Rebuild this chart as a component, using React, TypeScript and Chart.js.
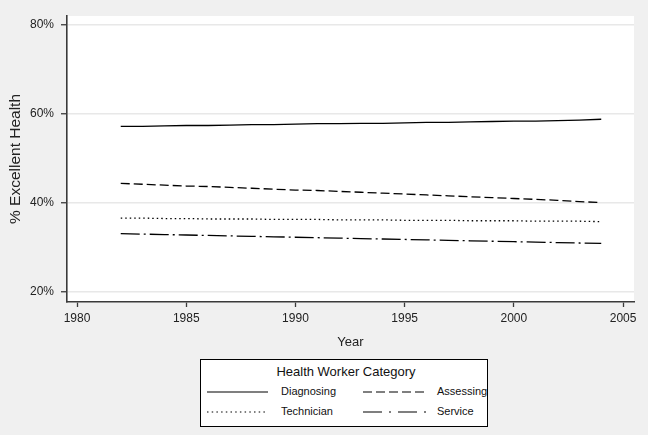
import { useEffect, useRef } from 'react';
import { Chart, registerables } from 'chart.js';

Chart.register(...registerables);

const years = [1982, 1983, 1984, 1985, 1986, 1987, 1988, 1989, 1990, 1991, 1992, 1993, 1994, 1995, 1996, 1997, 1998, 1999, 2000, 2001, 2002, 2003, 2004];
const diagnosing = [57.2, 57.2, 57.3, 57.4, 57.4, 57.5, 57.6, 57.6, 57.7, 57.8, 57.8, 57.9, 57.9, 58.0, 58.1, 58.1, 58.2, 58.3, 58.4, 58.4, 58.5, 58.6, 58.8];
const assessing = [44.4, 44.2, 44.0, 43.8, 43.7, 43.5, 43.3, 43.1, 42.9, 42.8, 42.6, 42.4, 42.2, 42.0, 41.8, 41.6, 41.4, 41.2, 41.0, 40.8, 40.6, 40.3, 40.1];
const technician = [36.6, 36.6, 36.5, 36.5, 36.4, 36.4, 36.4, 36.3, 36.3, 36.3, 36.2, 36.2, 36.2, 36.1, 36.1, 36.1, 36.0, 36.0, 36.0, 35.9, 35.9, 35.9, 35.8];
const service = [33.1, 33.0, 32.9, 32.8, 32.7, 32.6, 32.5, 32.4, 32.3, 32.2, 32.1, 32.0, 31.9, 31.8, 31.7, 31.6, 31.5, 31.4, 31.3, 31.2, 31.1, 31.0, 30.9];

const seriesNames = ['Diagnosing', 'Assessing', 'Technician', 'Service'];
const xTicks = [1980, 1985, 1990, 1995, 2000, 2005];
const yTicks = [20, 40, 60, 80];

const FONT = "'Liberation Sans', Arial, sans-serif";
const AXIS = '#3a3a3a';
const dashes: number[][] = [[], [9, 4], [1.5, 3], [19, 4, 2, 4]];
const legendDashes: number[][] = [[], [9, 4], [1.5, 3.2], [19, 7, 2, 7]];

const bgPlugin = {
  id: 'plotBg',
  beforeDraw(chart: any) {
    const { ctx, chartArea } = chart;
    ctx.save();
    ctx.fillStyle = '#ffffff';
    ctx.fillRect(chartArea.left, chartArea.top, chartArea.right - chartArea.left, chartArea.bottom - chartArea.top);
    ctx.restore();
  },
};

function LegendSample({ dash, x1, x2, y }: { dash: number[]; x1: number; x2: number; y: number }) {
  return (
    <line x1={x1} x2={x2} y1={y} y2={y} stroke="#000" strokeWidth={1.2} strokeDasharray={dash.length ? dash.join(' ') : undefined} />
  );
}

export default function App() {
  const ref = useRef<HTMLCanvasElement>(null);

  useEffect(() => {
    document.body.style.margin = '0';
    document.body.style.background = '#f0f0f0';
    const all = [diagnosing, assessing, technician, service];
    const chart = new Chart(ref.current!, {
      type: 'line',
      data: {
        datasets: all.map((vals, i) => ({
          label: seriesNames[i],
          data: years.map((y, j) => ({ x: y, y: vals[j] })),
          borderColor: '#000',
          borderWidth: 1.3,
          borderDash: dashes[i],
          pointRadius: 0,
          fill: false,
          tension: 0,
        })),
      },
      options: {
        responsive: false,
        animation: false,
        layout: { padding: { top: 16, right: 14, left: 0, bottom: 0 } },
        plugins: { legend: { display: false }, tooltip: { enabled: false } },
        scales: {
          x: {
            type: 'linear',
            min: 1979.54,
            max: 2005.5,
            afterBuildTicks: (s: any) => {
              s.ticks = xTicks.map((v) => ({ value: v }));
            },
            afterFit: (s: any) => {
              s.height = 53;
            },
            grid: { drawOnChartArea: false, tickLength: 5, tickColor: AXIS, tickWidth: 1.3 },
            border: { color: AXIS, width: 1.6 },
            ticks: {
              color: '#222',
              font: { family: FONT, size: 12 },
              padding: 4,
              maxRotation: 0,
              autoSkip: false,
              callback: (v: any) => String(v),
            },
            title: { display: true, text: 'Year', color: '#222', font: { family: FONT, size: 13 }, padding: { top: 4, bottom: 5 } },
          },
          y: {
            type: 'linear',
            min: 17.75,
            max: 82,
            afterBuildTicks: (s: any) => {
              s.ticks = yTicks.map((v) => ({ value: v }));
            },
            afterFit: (s: any) => {
              s.width = 67;
            },
            grid: { color: '#e8e8e8', lineWidth: 1.5, tickLength: 6, tickColor: AXIS, tickWidth: 1.3 },
            border: { color: AXIS, width: 1.6 },
            ticks: {
              color: '#222',
              font: { family: FONT, size: 12 },
              padding: 7,
              autoSkip: false,
              callback: (v: any) => `${v}%`,
            },
            title: { display: true, text: '% Excellent Health', color: '#222', font: { family: FONT, size: 15.5 }, padding: { top: 6, bottom: 6 } },
          },
        },
      },
      plugins: [bgPlugin],
    });
    return () => chart.destroy();
  }, []);

  const txt = (text: string, left: number, top: number, size: number, extra: any = {}) => (
    <span
      style={{
        position: 'absolute',
        left,
        top: top - size * 0.6,
        fontFamily: FONT,
        fontSize: size,
        lineHeight: `${size * 1.2}px`,
        color: '#111',
        whiteSpace: 'nowrap',
        ...extra,
      }}
    >
      {text}
    </span>
  );

  return (
    <div style={{ position: 'relative', width: 648, height: 435, background: '#f0f0f0', overflow: 'hidden' }}>
      <canvas ref={ref} width={648} height={355} style={{ position: 'absolute', left: 0, top: 0 }} />
      <div
        style={{
          position: 'absolute',
          left: 200,
          top: 359,
          width: 286,
          height: 66,
          border: '1px solid #000',
          background: '#fff',
        }}
      >
        <svg width={286} height={66} style={{ position: 'absolute', left: 0, top: 0 }}>
          <LegendSample dash={legendDashes[0]} x1={6} x2={67} y={32} />
          <LegendSample dash={legendDashes[1]} x1={162} x2={227} y={32} />
          <LegendSample dash={legendDashes[2]} x1={6} x2={67} y={52} />
          <LegendSample dash={legendDashes[3]} x1={162} x2={227} y={52} />
        </svg>
        {txt('Health Worker Category', 0, 12, 13, { width: 290, textAlign: 'center' })}
        {txt(seriesNames[0], 80, 32, 11)}
        {txt(seriesNames[1], 236, 32, 11)}
        {txt(seriesNames[2], 80, 52, 11)}
        {txt(seriesNames[3], 236, 52, 11)}
      </div>
    </div>
  );
}
